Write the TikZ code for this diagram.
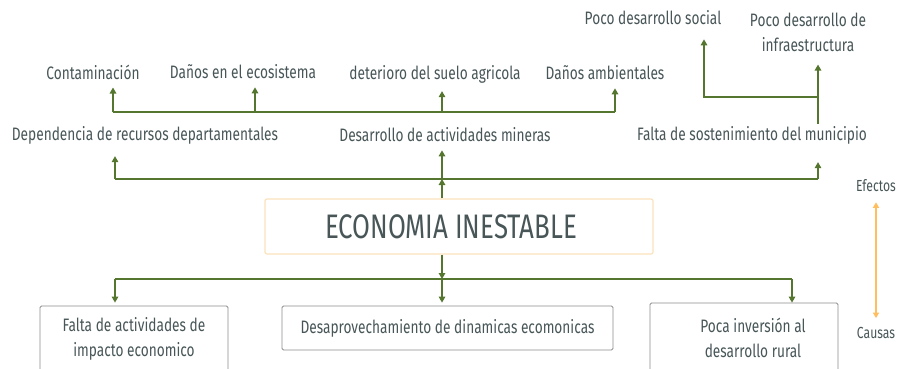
\documentclass[tikz,border=0pt]{standalone}
\usepackage{fontspec}
\setmainfont{Fira Sans}[FakeStretch=0.76]
\usetikzlibrary{arrows.meta}
\definecolor{txtgray}{RGB}{72,86,88}
\definecolor{linegreen}{RGB}{84,118,46}
\definecolor{boxorange}{RGB}{253,226,190}
\definecolor{arrorange}{RGB}{255,190,95}
\definecolor{boxgray}{RGB}{140,140,140}

\begin{document}
\begin{tikzpicture}[x=1pt,y=-1pt]
\tikzstyle{label}=[text=txtgray, font=\fontsize{18}{25}\selectfont, inner sep=2pt, align=center]
\tikzstyle{mainbox}=[draw=boxorange, line width=1.2pt, rounded corners=2pt, minimum width=388pt, minimum height=55pt, text=txtgray, font=\fontsize{34}{38}\selectfont]
\tikzstyle{causebox}=[draw=boxgray, line width=0.8pt, rounded corners=1.5pt, text=txtgray, font=\fontsize{18}{25}\selectfont, align=center, inner sep=0pt]
\tikzstyle{conn}=[draw=linegreen, line width=1.4pt]
\tikzstyle{arr}=[conn, -{Triangle[length=6pt, width=6.5pt]}, shorten >=6pt]
\tikzstyle{sidearr}=[draw=arrorange, line width=1.4pt, {Triangle[length=5.5pt, width=6pt]}-{Triangle[length=5.5pt, width=6pt]}]
\tikzstyle{small}=[text=txtgray, font=\fontsize{16}{18}\selectfont, inner sep=2pt]

\path[use as bounding box, clip] (0,0) rectangle (897,368);
\fill[white] (0,0) rectangle (897,368);

% efectos
\draw (93,72) node[label] (cont) {Contaminación};
\draw (243,72) node[label] (eco) {Daños en el ecosistema};
\draw (435,74) node[label] (suelo) {deterioro del suelo agricola};
\draw (605,73) node[label] (amb) {Daños ambientales};
\draw (653,18) node[label] (social) {Poco desarrollo social};
\draw (808,32) node[label] (infra) {Poco desarrollo de\\infraestructura};
\draw (145,135) node[label] (dep) {Dependencia de recursos departamentales};
\draw (445,135) node[label] (min) {Desarrollo de actividades mineras};
\draw (752,135) node[label] (falta) {Falta de sostenimiento del municipio};

% problema central
\draw (459,226.5) node[mainbox] (econ) {ECONOMIA INESTABLE\hspace*{16pt}};

% causas
\draw (134,339) node[causebox, minimum width=188pt, minimum height=66pt] (b1) {Falta de actividades de\\impacto economico};
\draw (447.5,328) node[causebox, minimum width=331pt, minimum height=44pt] (b2) {Desaprovechamiento de dinamicas ecomonicas};
\draw (744,337.5) node[causebox, minimum width=188pt, minimum height=69pt] (b3) {\hspace*{18pt}Poca inversión al\\\hspace*{18pt}desarrollo rural};

\draw (876,186) node[small] (efectos) {Efectos};
\draw (876,333) node[small] (causas) {Causas};

\coordinate (mj) at (442,112);
\coordinate (mjL) at (113,112);
\coordinate (mjE) at (255,112);
\coordinate (mjR) at (615,112);
\coordinate (up) at (442,179);
\coordinate (upL) at (115,179);
\coordinate (upR) at (818,179);
\coordinate (dn) at (442,279);
\coordinate (dnL) at (115,279);
\coordinate (dnR) at (792,279);
\coordinate (fj) at (818,97);
\coordinate (sj) at (704,97);

\draw[conn] (mjL) -- (mjR);
\draw[arr] (mjL) -- (mjL |- cont.south);
\draw[arr] (mjE) -- (mjE |- eco.south);
\draw[arr] (mj) -- (mj |- suelo.south);
\draw[arr] (mjR) -- (mjR |- amb.south);

\draw[arr, shorten >=0pt] (econ.north -| up) -- (up);
\draw[conn] (upL) -- (upR);
\draw[arr, shorten >=10pt] (upL) -- (upL |- dep.south);
\draw[arr] (up) -- (up |- min.south);
\draw[arr, shorten >=16pt] (upR) -- (upR |- falta.south);

\draw[conn] (falta.north -| fj) -- (fj);
\draw[arr, shorten >=12pt] (fj) -- (sj) -- (sj |- social.south);
\draw[arr, shorten >=11pt] (fj) -- (fj |- infra.south);

\draw[arr, shorten >=0pt] (econ.south -| dn) -- (dn);
\draw[conn] (dnL) -- (dnR);
\draw[arr, shorten >=3pt] (dnL) -- (dnL |- b1.north);
\draw[arr, shorten >=3pt] (dn) -- (dn |- b2.north);
\draw[arr, shorten >=0pt] (dnR) -- (dnR |- b3.north);

\draw[sidearr, shorten <=8pt, shorten >=7pt] (efectos.south) -- (causas.north);
\end{tikzpicture}
\end{document}
